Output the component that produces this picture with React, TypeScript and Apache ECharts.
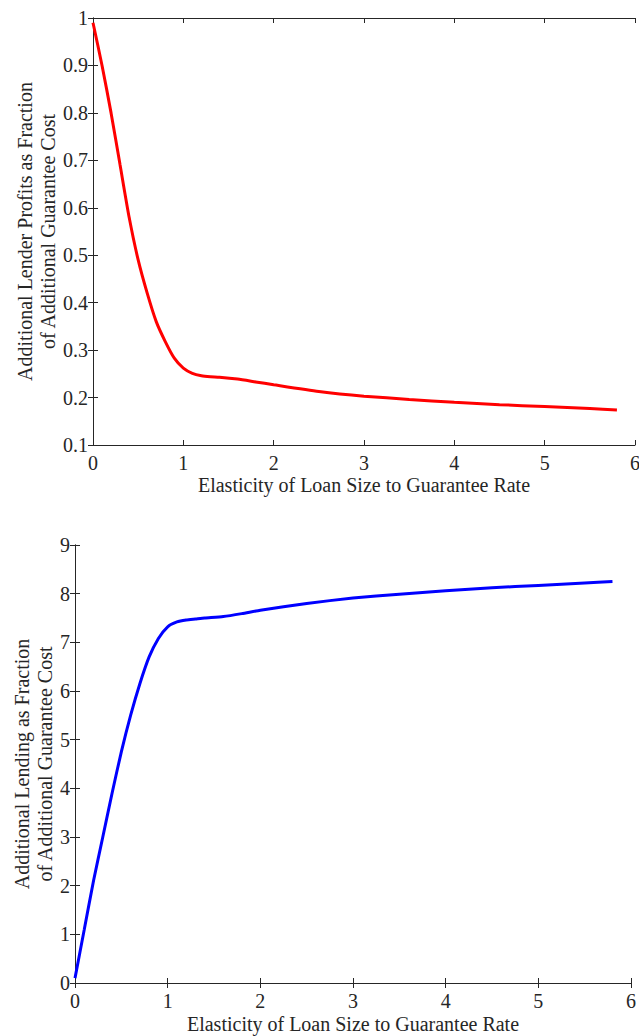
import React, { useEffect, useRef } from "react";
import * as echarts from "echarts";

// Elasticity of loan size to guarantee rate (shared x values)
const elasticity = [0, 0.1, 0.2, 0.3, 0.4, 0.5, 0.6, 0.7, 0.8, 0.9, 1.0, 1.1, 1.2, 1.3, 1.4, 1.6, 1.8, 2.0, 2.5, 3.0, 3.5, 4.0, 4.5, 5.0, 5.5, 5.8];

// Additional lender profits as a fraction of additional guarantee cost
const lenderProfits = [0.99, 0.9, 0.8, 0.69, 0.58, 0.49, 0.42, 0.36, 0.318, 0.283, 0.262, 0.251, 0.246, 0.244, 0.243, 0.239, 0.233, 0.227, 0.213, 0.203, 0.196, 0.19, 0.185, 0.181, 0.177, 0.174];

// Additional lending as a fraction of additional guarantee cost
const additionalLending = [0.1, 1.1, 2.1, 3.0, 3.9, 4.75, 5.5, 6.15, 6.7, 7.08, 7.32, 7.42, 7.46, 7.48, 7.5, 7.53, 7.59, 7.66, 7.8, 7.91, 7.99, 8.06, 8.12, 8.17, 8.22, 8.25];

const xTicks = { min: 0, max: 6, interval: 1 };
const topYTicks = { min: 0.1, max: 1, interval: 0.1 };
const bottomYTicks = { min: 0, max: 9, interval: 1 };

const xAxisName = "Elasticity of Loan Size to Guarantee Rate";
const topYName = "Additional Lender Profits as Fraction\nof Additional Guarantee Cost";
const bottomYName = "Additional Lending as Fraction\nof Additional Guarantee Cost";

const FONT = "Liberation Serif";
const AXIS_COLOR = "#262626";

export default function App() {
  const ref = useRef<HTMLDivElement>(null);

  useEffect(() => {
    document.body.style.margin = "0";
    if (!ref.current) return;
    const chart = echarts.init(ref.current, undefined, { renderer: "svg" });

    const line = { lineStyle: { color: AXIS_COLOR, width: 1 } };
    const tickIn = { show: true, inside: true, length: 5, lineStyle: { color: AXIS_COLOR } };
    const labelStyle = { color: AXIS_COLOR, fontFamily: FONT, fontSize: 20 };
    const nameStyle = { color: AXIS_COLOR, fontFamily: FONT, fontSize: 20, lineHeight: 23 };

    const fmtTop = (v: number) => {
      const r = Math.round(v * 10) / 10;
      return r === 1 ? "1" : r.toFixed(1);
    };

    const makeX = (gridIndex: number, gap: number) => [
      {
        type: "value",
        gridIndex,
        ...xTicks,
        position: "bottom",
        axisLine: { show: true, ...line },
        axisTick: tickIn,
        axisLabel: { ...labelStyle, margin: 8 },
        splitLine: { show: false },
        name: xAxisName,
        nameLocation: "middle",
        nameGap: gap,
        nameMoveOverlap: false,
        nameTextStyle: nameStyle,
      },
      {
        type: "value",
        gridIndex,
        ...xTicks,
        position: "top",
        axisLine: { show: true, ...line },
        axisTick: tickIn,
        axisLabel: { show: false },
        splitLine: { show: false },
      },
    ];

    const makeY = (gridIndex: number, ticks: any, name: string, gap: number, fmt?: (v: number) => string) => [
      {
        type: "value",
        gridIndex,
        ...ticks,
        position: "left",
        axisLine: { show: true, ...line },
        axisTick: tickIn,
        axisLabel: { ...labelStyle, margin: 5, formatter: fmt },
        splitLine: { show: false },
        name,
        nameLocation: "middle",
        nameGap: gap,
        nameMoveOverlap: false,
        nameTextStyle: nameStyle,
      },
      {
        type: "value",
        gridIndex,
        ...ticks,
        position: "right",
        axisLine: { show: true, ...line },
        axisTick: tickIn,
        axisLabel: { show: false },
        splitLine: { show: false },
      },
    ];

    chart.setOption({
      animation: false,
      backgroundColor: "#ffffff",
      grid: [
        { left: 93, top: 18, width: 542, height: 427, containLabel: false, outerBoundsMode: "none" },
        { left: 75, top: 545, width: 556, height: 438, containLabel: false, outerBoundsMode: "none" },
      ],
      xAxis: [...makeX(0, 28), ...makeX(1, 29)],
      yAxis: [
        ...makeY(0, topYTicks, topYName, 34, fmtTop),
        ...makeY(1, bottomYTicks, bottomYName, 19),
      ],
      series: [
        {
          type: "line",
          xAxisIndex: 0,
          yAxisIndex: 0,
          data: elasticity.map((x, i) => [x, lenderProfits[i]]),
          showSymbol: false,
          smooth: 0.2,
          lineStyle: { color: "#ff0000", width: 3 },
        },
        {
          type: "line",
          xAxisIndex: 2,
          yAxisIndex: 2,
          data: elasticity.map((x, i) => [x, additionalLending[i]]),
          showSymbol: false,
          smooth: 0.2,
          lineStyle: { color: "#0000ff", width: 3 },
        },
      ],
    });

    return () => chart.dispose();
  }, []);

  return <div ref={ref} style={{ width: 639, height: 1036 }} />;
}
